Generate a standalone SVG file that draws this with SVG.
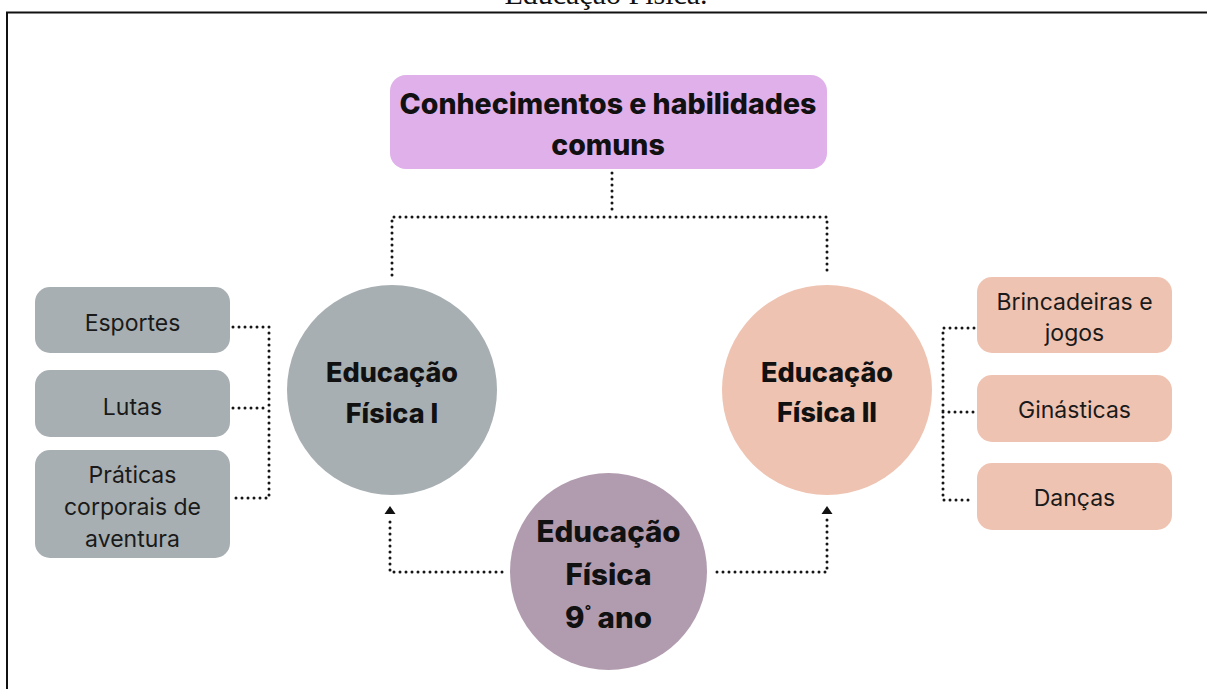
<svg xmlns="http://www.w3.org/2000/svg" width="1207" height="689" viewBox="0 0 1207 689">
<style>
.title{font-family:"Liberation Serif","Times New Roman",serif;font-size:30px;fill:#111;text-anchor:middle}
.b{font-family:Inter,"Noto Sans","Liberation Sans",sans-serif;font-weight:800;fill:#111;text-anchor:middle}
.r{font-family:Inter,"Noto Sans","Liberation Sans",sans-serif;font-weight:400;fill:#1a1a1a;text-anchor:middle;font-size:23px}
.dot{fill:none;stroke:#151515;stroke-width:3;stroke-dasharray:0 6;stroke-linecap:round}
.gray{fill:#A7AFB2}
.peach{fill:#EFC3B1}
</style>
<rect width="1207" height="689" fill="#fff"/>
<text class="title" x="606" y="4">Educação Física.</text>
<path d="M6,12.5 H1207 M7,12 V689" stroke="#111" stroke-width="2" fill="none"/>

<g id="connectors">
<path class="dot" d="M612,173 V211"/>
<path class="dot" d="M392,275 V217 H827 V275"/>
<path class="dot" d="M233,327 H269 V498 H233 M233,408 H269"/>
<path class="dot" d="M974,328 H943 V500 H974 M943,412 H974"/>
<path class="dot" d="M502,572 H390 V516"/>
<path class="dot" d="M717,572 H827 V516"/>
<path d="M384.5,514 L390,506 L395.5,514 Z" fill="#111"/>
<path d="M821.5,514 L827,506 L832.5,514 Z" fill="#111"/>
</g>

<g id="node-comuns">
<rect x="390" y="75" width="437" height="94" rx="16" fill="#E0B0EA"/>
<text class="b" x="608" y="114" font-size="28.5">Conhecimentos e habilidades</text>
<text class="b" x="608" y="155" font-size="28.5">comuns</text>
</g>

<g id="node-ef1">
<circle cx="392" cy="390" r="105" class="gray"/>
<text class="b" x="392" y="382" font-size="27">Educação</text>
<text class="b" x="392" y="423" font-size="27">Física I</text>
</g>

<g id="node-ef2">
<circle cx="827" cy="390" r="105" class="peach"/>
<text class="b" x="827" y="382" font-size="27">Educação</text>
<text class="b" x="827" y="422" font-size="27">Física II</text>
</g>

<g id="node-ef9">
<circle cx="608.5" cy="571.5" r="98.5" fill="#B19CAF"/>
<text class="b" x="608.5" y="542" font-size="29.5">Educação</text>
<text class="b" x="608.5" y="585" font-size="29.5">Física</text>
<text class="b" x="608.5" y="628" font-size="29.5">9<tspan font-size="14" dy="-12">°</tspan><tspan dy="12"> ano</tspan></text>
</g>

<g id="node-esportes">
<rect x="35" y="287" width="195" height="66" rx="15" class="gray"/>
<text class="r" x="132.5" y="331">Esportes</text>
</g>
<g id="node-lutas">
<rect x="35" y="370" width="195" height="67" rx="15" class="gray"/>
<text class="r" x="132.5" y="415">Lutas</text>
</g>
<g id="node-praticas">
<rect x="35" y="450" width="195" height="108" rx="15" class="gray"/>
<text class="r" x="132.5" y="483">Práticas</text>
<text class="r" x="132.5" y="515">corporais de</text>
<text class="r" x="132.5" y="547">aventura</text>
</g>

<g id="node-brincadeiras">
<rect x="977" y="277" width="195" height="76" rx="15" class="peach"/>
<text class="r" x="1074.5" y="310">Brincadeiras e</text>
<text class="r" x="1074.5" y="341">jogos</text>
</g>
<g id="node-ginasticas">
<rect x="977" y="375" width="195" height="67" rx="15" class="peach"/>
<text class="r" x="1074.5" y="418">Ginásticas</text>
</g>
<g id="node-dancas">
<rect x="977" y="463" width="195" height="67" rx="15" class="peach"/>
<text class="r" x="1074.5" y="506">Danças</text>
</g>
</svg>
